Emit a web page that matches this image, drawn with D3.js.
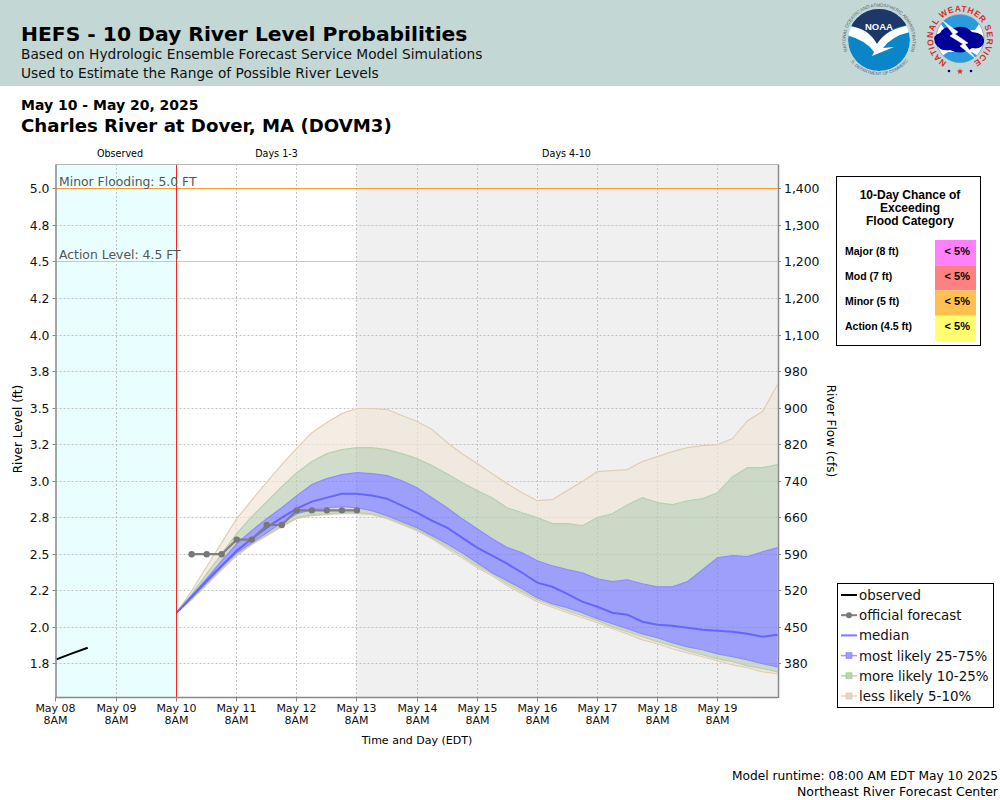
<!DOCTYPE html>
<html>
<head>
<meta charset="utf-8">
<script src="https://cdn.jsdelivr.net/npm/d3@7"></script>
<style>
	html, body { margin: 0; padding: 0; background: #fff; }
	svg { display: block; font-family: "DejaVu Sans", sans-serif; }
</style>
</head>
<body>
<svg id="chart" width="1000" height="800"></svg>
<script>
// river level values, one every 6 hours from May 10 8AM
let q95 = [2.099,2.250,2.414,2.579,2.743,2.870,2.993,3.113,3.226,3.332,3.401,3.462,3.497,3.497,3.490,3.449,3.408,3.353,3.264,3.188,3.120,3.051,2.983,2.921,2.866,2.873,2.935,2.997,3.065,3.072,3.079,3.134,3.168,3.202,3.229,3.243,3.250,3.291,3.414,3.476,3.661];
let q90 = [2.099,2.229,2.366,2.503,2.640,2.757,2.860,2.962,3.058,3.134,3.188,3.216,3.229,3.229,3.216,3.188,3.154,3.106,3.051,2.990,2.935,2.887,2.818,2.784,2.750,2.709,2.709,2.695,2.750,2.777,2.839,2.887,2.853,2.839,2.866,2.880,2.921,3.031,3.092,3.092,3.113];
let q75 = [2.099,2.216,2.332,2.455,2.572,2.661,2.743,2.818,2.901,2.976,3.017,3.045,3.058,3.051,3.038,3.003,2.955,2.887,2.818,2.743,2.675,2.606,2.545,2.510,2.455,2.421,2.394,2.373,2.332,2.312,2.325,2.298,2.277,2.277,2.312,2.394,2.476,2.490,2.483,2.517,2.545];
let median = [2.099,2.209,2.318,2.421,2.524,2.606,2.682,2.750,2.812,2.860,2.887,2.914,2.914,2.901,2.880,2.832,2.784,2.729,2.682,2.613,2.545,2.490,2.435,2.373,2.305,2.277,2.229,2.175,2.140,2.099,2.086,2.038,2.017,2.010,1.997,1.983,1.976,1.969,1.955,1.935,1.949];
let q25 = [2.099,2.202,2.305,2.414,2.510,2.579,2.647,2.716,2.777,2.805,2.818,2.825,2.818,2.798,2.764,2.723,2.682,2.627,2.572,2.510,2.442,2.373,2.318,2.264,2.202,2.161,2.134,2.099,2.058,2.024,1.990,1.955,1.928,1.894,1.866,1.846,1.818,1.798,1.777,1.750,1.729];
let q10 = [2.099,2.195,2.298,2.401,2.497,2.572,2.634,2.695,2.750,2.771,2.777,2.784,2.784,2.777,2.750,2.709,2.668,2.613,2.551,2.490,2.421,2.366,2.298,2.243,2.188,2.151,2.113,2.079,2.045,2.003,1.969,1.935,1.901,1.873,1.839,1.812,1.784,1.764,1.736,1.716,1.695];
let q05 = [2.099,2.188,2.291,2.394,2.490,2.565,2.627,2.688,2.743,2.764,2.771,2.777,2.777,2.771,2.743,2.702,2.661,2.606,2.538,2.476,2.408,2.353,2.284,2.229,2.175,2.137,2.099,2.065,2.031,1.990,1.955,1.914,1.887,1.853,1.825,1.798,1.771,1.743,1.723,1.695,1.682];

let officialForecast = [2.5,2.5,2.5,2.6,2.6,2.7,2.7,2.8,2.8,2.8,2.8,2.8];
let observedHours = [0, 6, 12.5];
let observedLevels = [1.78, 1.82, 1.86];

let levelTicks = [5,4.75,4.5,4.25,4,3.75,3.5,3.25,3,2.75,2.5,2.25,2,1.75];
let levelLabels = ['5.0','4.8','4.5','4.2','4.0','3.8','3.5','3.2','3.0','2.8','2.5','2.2','2.0','1.8'];
let flowLabels = ['1,400','1,300','1,200','1,200','1,100','980','900','820','740','660','590','520','450','380'];
let dayLabels = ['May 08','May 09','May 10','May 11','May 12','May 13','May 14','May 15','May 16','May 17','May 18','May 19'];

let categories = ['Major (8 ft)','Mod (7 ft)','Minor (5 ft)','Action (4.5 ft)'];
let categoryChance = ['< 5%','< 5%','< 5%','< 5%'];
let categoryColors = ['#ff80ff','#ff8080','#ffc050','#ffff70'];

let legendItems = ['observed', 'official forecast', 'median', 'most likely 25-75%', 'more likely 10-25%', 'less likely 5-10%'];
let legendColors = ['#000', '#808080', '#7a7aff', '#9a9aff', '#b8d6ac', '#e8d5c0'];

const start = Date.UTC(2025, 4, 8, 8);
const hour = 3600000;
const day = 24 * hour;
const forecastStart = start + 2 * day;

const plotLeft = 55.5, plotRight = 778, plotTop = 164, plotBottom = 697.5;

let svg = d3.select('#chart');

let x = d3.scaleTime()
	.domain([new Date(start), new Date(start + 12 * day)])
	.range([56.4, 777.6]);
let y = d3.scaleLinear()
	.domain([1.5193, 5.1704])
	.range([plotBottom, plotTop]);

// snap to the pixel row or column so thin lines stay crisp
let snap = v => Math.floor(v) + 0.5;

let bandTime = (d, i) => x(new Date(forecastStart + i * 6 * hour));
let dayTicks = dayLabels.map((d, i) => new Date(start + i * day));

function addText(parent, str, px, py, size, opts) {
	opts = opts || {};
	return parent.append('text')
		.attr('x', px)
		.attr('y', py)
		.attr('font-size', size)
		.attr('font-weight', opts.weight || 'normal')
		.attr('font-family', opts.family || null)
		.attr('text-anchor', opts.anchor || 'start')
		.attr('fill', opts.fill || '#000')
		.text(str);
}

// header
svg.append('rect').attr('width', 1000).attr('height', 86).attr('fill', '#c3d7d5');
addText(svg, 'HEFS - 10 Day River Level Probabilities', 21, 41, 20.3, {weight: 'bold'});
addText(svg, 'Based on Hydrologic Ensemble Forecast Service Model Simulations', 21, 59, 13.76, {fill: '#111'});
addText(svg, 'Used to Estimate the Range of Possible River Levels', 21, 78, 13.76, {fill: '#111'});
addText(svg, 'May 10 - May 20, 2025', 21, 110, 14, {weight: 'bold'});
addText(svg, 'Charles River at Dover, MA (DOVM3)', 21, 132, 18.15, {weight: 'bold'});

// logos
const logoFont = '"Liberation Sans", sans-serif';

function drawNoaa(g) {
	let defs = g.append('defs');
	defs.append('clipPath').attr('id', 'noaaDisc')
		.append('circle').attr('cx', 879).attr('cy', 40).attr('r', 31);
	defs.append('path').attr('id', 'noaaTop')
		.attr('d', 'M 849 55 A 33.5 33.5 0 1 1 909 55');
	defs.append('path').attr('id', 'noaaBottom')
		.attr('d', 'M 850 61 A 37 37 0 0 0 908 61');

	g.append('text').attr('font-size', 4.5).attr('fill', '#4a5a78').attr('font-family', logoFont)
		.append('textPath').attr('href', '#noaaTop').attr('startOffset', '50%').attr('text-anchor', 'middle')
		.text('NATIONAL OCEANIC AND ATMOSPHERIC ADMINISTRATION');
	g.append('text').attr('font-size', 4.3).attr('fill', '#4a5a78').attr('font-family', logoFont)
		.append('textPath').attr('href', '#noaaBottom').attr('startOffset', '50%').attr('text-anchor', 'middle')
		.text('U.S. DEPARTMENT OF COMMERCE');

	let disc = g.append('g').attr('clip-path', 'url(#noaaDisc)');
	disc.append('circle').attr('cx', 879).attr('cy', 40).attr('r', 31).attr('fill', '#0a85c8');
	disc.append('path').attr('fill', '#1d3769')
		.attr('d', 'M 845 25 L 849 26 Q 868 28 877 44 Q 887 28 908 25 L 915 25 L 915 5 L 845 5 Z');
	disc.append('path').attr('fill', '#fff')
		.attr('d', 'M 846 26 L 849 26 Q 868 28 877 44 Q 887 28 912 25 L 910 32 Q 892 36 883 48 L 894 47 L 872 56 L 874 52 Q 866 40 846 35 Z');
	addText(g, 'NOAA', 879, 29.5, 9.5, {weight: 'bold', fill: '#fff', anchor: 'middle', family: logoFont});
}

function drawNws(g) {
	g.append('defs').append('path').attr('id', 'nwsRing')
		.attr('d', 'M 946.5 61.9 A 27 27 0 1 1 973.5 61.9');
	g.append('text').attr('font-size', 8.5).attr('font-weight', 'bold').attr('fill', '#d62c30')
		.attr('font-family', logoFont).attr('letter-spacing', 0.6)
		.append('textPath').attr('href', '#nwsRing').attr('startOffset', '50%').attr('text-anchor', 'middle')
		.text('NATIONAL WEATHER SERVICE');
	g.append('circle').attr('cx', 960).attr('cy', 38.5).attr('r', 24).attr('fill', '#fff').attr('stroke', '#8a8fb8').attr('stroke-width', 0.8);
	g.append('path').attr('fill', '#2a9bdc')
		.attr('d', 'M 941 24 A 24 24 0 0 1 979 24 L 975 30 L 945 30 Z');
	g.append('path').attr('fill', '#2a9bdc')
		.attr('d', 'M 943 55.5 A 24 24 0 0 0 977 55.5 L 972 52 L 948 52 Z');
	g.append('path').attr('fill', '#000098')
		.attr('d', 'M 935 43 Q 932 35 940 33 Q 944 25 954 28 Q 965 24 972 32 Q 985 33 984 42 Q 982 50 972 48 Q 962 56 950 50 Q 940 52 935 43 Z');
	g.append('path').attr('fill', '#fff').attr('stroke', '#fff').attr('stroke-width', 0.5)
		.attr('d', 'M 943 21 L 958 32 L 955 34 L 968 43 L 965 44 L 975 58 L 960 46 L 963 44 L 950 36 L 953 34 Z');
	g.selectAll('circle.dot').data([949, 971]).join('circle').attr('class', 'dot')
		.attr('cx', d => d).attr('cy', 71).attr('r', 1.3).attr('fill', '#000098');
	g.append('path').attr('transform', 'translate(960,71.5)').attr('fill', '#d62c30')
		.attr('d', d3.symbol(d3.symbolStar, 14)());
}

drawNoaa(svg.append('g'));
drawNws(svg.append('g'));

// plot background
let plot = svg.append('g');
plot.append('rect')
	.attr('x', plotLeft).attr('y', plotTop)
	.attr('width', snap(x(dayTicks[2])) - plotLeft).attr('height', plotBottom - plotTop)
	.attr('fill', '#e9ffff');
plot.append('rect')
	.attr('x', snap(x(dayTicks[5]))).attr('y', plotTop)
	.attr('width', plotRight - snap(x(dayTicks[5]))).attr('height', plotBottom - plotTop)
	.attr('fill', '#f0f0f0');

// grid
plot.append('g').selectAll('line').data(levelTicks).join('line')
	.attr('x1', plotLeft).attr('x2', plotRight)
	.attr('y1', d => snap(y(d))).attr('y2', d => snap(y(d)))
	.attr('stroke', '#c0c0c0').attr('stroke-dasharray', '2,2');
plot.append('g').selectAll('line').data(dayTicks.slice(1)).join('line')
	.attr('x1', d => snap(x(d))).attr('x2', d => snap(x(d)))
	.attr('y1', plotTop).attr('y2', plotBottom)
	.attr('stroke', '#c0c0c0').attr('stroke-dasharray', '2,2');

// probability bands
function addBand(upper, lower, fill) {
	let area = d3.area()
		.x((d, i) => bandTime(d, i))
		.y0((d, i) => y(lower[i]))
		.y1(d => y(d));
	plot.append('path').datum(upper).attr('d', area).attr('fill', fill);
}
function addEdge(values, color, width) {
	let line = d3.line().x((d, i) => bandTime(d, i)).y(d => y(d));
	plot.append('path').datum(values).attr('d', line)
		.attr('fill', 'none').attr('stroke', color).attr('stroke-width', width);
}

const tanFill = 'rgba(239,229,216,0.7)';
const greenFill = 'rgba(187,206,179,0.7)';
const blueFill = 'rgba(123,123,255,0.7)';

addBand(q95, q90, tanFill);
addBand(q10, q05, tanFill);
addBand(q90, q75, greenFill);
addBand(q25, q10, greenFill);
addBand(q75, q25, blueFill);

addEdge(q95, '#e2cdb5', 1.2);
addEdge(q05, '#e2cdb5', 1.2);
addEdge(q90, '#b8d1ac', 1.2);
addEdge(q10, '#b8d1ac', 1.2);
addEdge(q75, '#8c8cff', 1.2);
addEdge(q25, '#8c8cff', 1.2);
addEdge(median, '#6666ff', 2);

// flood levels and forecast start
plot.append('line').attr('x1', plotLeft).attr('x2', plotRight)
	.attr('y1', snap(y(5))).attr('y2', snap(y(5)))
	.attr('stroke', '#ff9a30').attr('stroke-width', 1);
plot.append('line').attr('x1', plotLeft).attr('x2', plotRight)
	.attr('y1', snap(y(4.5))).attr('y2', snap(y(4.5)))
	.attr('stroke', '#c8c8c8').attr('stroke-width', 1);
plot.append('line')
	.attr('x1', snap(x(dayTicks[2]))).attr('x2', snap(x(dayTicks[2])))
	.attr('y1', plotTop).attr('y2', plotBottom)
	.attr('stroke', '#ff2020').attr('stroke-width', 1);
addText(plot, 'Minor Flooding: 5.0 FT', 59, 186, 12.4, {fill: '#555'});
addText(plot, 'Action Level: 4.5 FT', 59, 259, 12.4, {fill: '#555'});

// official forecast
let forecastLine = d3.line().x((d, i) => bandTime(d, i + 1)).y(d => y(d));
plot.append('path').datum(officialForecast).attr('d', forecastLine)
	.attr('fill', 'none').attr('stroke', '#808080').attr('stroke-width', 2.2);
plot.append('g').selectAll('circle').data(officialForecast).join('circle')
	.attr('cx', (d, i) => bandTime(d, i + 1))
	.attr('cy', d => y(d))
	.attr('r', 3.2)
	.attr('fill', '#777');

// observed
let observedLine = d3.line()
	.x((d, i) => x(new Date(start + observedHours[i] * hour)))
	.y(d => y(d));
plot.append('path').datum(observedLevels).attr('d', observedLine)
	.attr('fill', 'none').attr('stroke', '#000').attr('stroke-width', 2);

// axes
function styleAxis(g, size) {
	g.selectAll('.domain').attr('stroke', '#888').attr('stroke-width', 1.5);
	g.selectAll('.tick line').attr('stroke', '#888');
	g.selectAll('text').attr('font-size', size).attr('font-family', '"DejaVu Sans", sans-serif').attr('fill', '#111');
}

let leftAxis = svg.append('g').attr('transform', `translate(${plotLeft},0)`)
	.call(d3.axisLeft(y).tickValues(levelTicks).tickFormat((d, i) => levelLabels[i]).tickSize(3).tickPadding(3).tickSizeOuter(0));
styleAxis(leftAxis, 12.4);
leftAxis.selectAll('.tick').attr('transform', d => `translate(0,${snap(y(d))})`);
leftAxis.selectAll('.tick text').attr('y', 0.7);

let rightAxis = svg.append('g').attr('transform', `translate(${plotRight},0)`)
	.call(d3.axisRight(y).tickValues(levelTicks).tickFormat((d, i) => flowLabels[i]).tickSize(3).tickPadding(3).tickSizeOuter(0));
styleAxis(rightAxis, 12.4);
rightAxis.selectAll('.tick').attr('transform', d => `translate(0,${snap(y(d))})`);
rightAxis.selectAll('.tick text').attr('y', 0.7);

let bottomAxis = svg.append('g').attr('transform', `translate(0,${plotBottom})`)
	.call(d3.axisBottom(x).tickValues(dayTicks).tickFormat((d, i) => dayLabels[i]).tickSize(4).tickPadding(3).tickSizeOuter(0));
styleAxis(bottomAxis, 11);
bottomAxis.select('.domain').remove();
bottomAxis.selectAll('.tick').attr('transform', (d, i) => `translate(${i ? snap(x(d)) : plotLeft},0)`);
bottomAxis.selectAll('.tick').append('text')
	.attr('y', 18.7).attr('dy', '0.71em')
	.attr('font-size', 11).attr('font-family', '"DejaVu Sans", sans-serif').attr('fill', '#111')
	.text('8AM');

svg.append('line').attr('x1', plotLeft).attr('x2', plotRight).attr('y1', plotBottom).attr('y2', plotBottom)
	.attr('stroke', '#888').attr('stroke-width', 1.5);
svg.append('line').attr('x1', plotLeft).attr('x2', plotRight).attr('y1', plotTop + 0.5).attr('y2', plotTop + 0.5)
	.attr('stroke', '#b4b4b4');

addText(svg, 'Observed', 120, 157, 9.6, {anchor: 'middle'});
addText(svg, 'Days 1-3', 276.5, 157, 9.6, {anchor: 'middle'});
addText(svg, 'Days 4-10', 566.5, 157, 9.6, {anchor: 'middle'});

addText(svg, 'Time and Day (EDT)', 417, 744, 11, {anchor: 'middle'});
addText(svg, 'River Level (ft)', 0, 0, 12, {anchor: 'middle'})
	.attr('transform', 'translate(22,429) rotate(-90)');
addText(svg, 'River Flow (cfs)', 0, 0, 12, {anchor: 'middle'})
	.attr('transform', 'translate(827,431) rotate(90)');

addText(svg, 'Model runtime: 08:00 AM EDT May 10 2025', 998, 780, 12.2, {anchor: 'end'});
addText(svg, 'Northeast River Forecast Center', 998, 796, 12.5, {anchor: 'end'});

// flood category box
let floodBox = svg.append('g').attr('font-family', '"Liberation Sans", sans-serif');
floodBox.append('rect')
	.attr('x', 836.5).attr('y', 176.5).attr('width', 144).attr('height', 169)
	.attr('fill', '#fff').attr('stroke', '#000');
['10-Day Chance of', 'Exceeding', 'Flood Category'].forEach((t, i) => {
	addText(floodBox, t, 910, 198.5 + i * 13.3, 12, {weight: 'bold', anchor: 'middle', family: logoFont});
});
let rowY = d3.scaleBand().domain(categories).range([240, 341]);
categories.forEach((c, i) => {
	floodBox.append('rect')
		.attr('x', 935).attr('y', rowY(c))
		.attr('width', 41).attr('height', rowY.bandwidth())
		.attr('fill', categoryColors[i]);
	addText(floodBox, c, 845, rowY(c) + 14.5, 10.5, {weight: 'bold', family: logoFont});
	addText(floodBox, categoryChance[i], 970, rowY(c) + 14.5, 11, {weight: 'bold', anchor: 'end', family: logoFont});
});

// legend
let legend = svg.append('g');
legend.append('rect')
	.attr('x', 837.5).attr('y', 583.5).attr('width', 156).attr('height', 124)
	.attr('fill', '#fff').attr('stroke', '#000');
legendItems.forEach((t, i) => {
	let ly = 595 + i * 20.2;
	legend.append('line')
		.attr('x1', 841).attr('x2', 857).attr('y1', ly).attr('y2', ly)
		.attr('stroke', legendColors[i]).attr('stroke-width', i < 3 ? 2 : 1.5);
	if (i == 1) {
		legend.append('circle').attr('cx', 849).attr('cy', ly).attr('r', 3).attr('fill', '#777');
	}
	if (i > 2) {
		legend.append('rect')
			.attr('x', 846).attr('y', ly - 3).attr('width', 6).attr('height', 6)
			.attr('fill', legendColors[i]).attr('stroke', d3.color(legendColors[i]).darker(0.3)).attr('stroke-width', 0.6);
	}
	addText(legend, t, 859, ly + 5, 13.4, {fill: '#111'});
});
</script>
</body>
</html>
